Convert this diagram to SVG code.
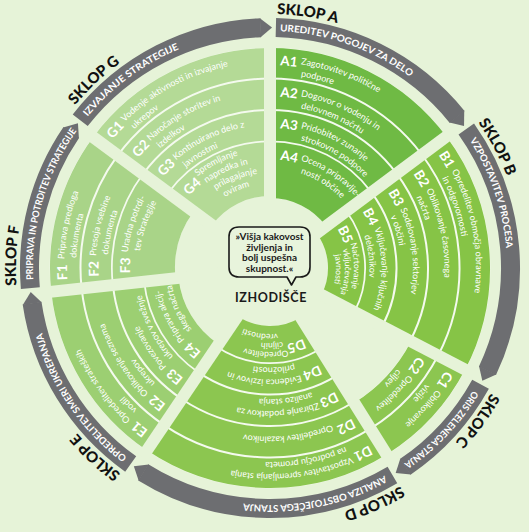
<svg xmlns="http://www.w3.org/2000/svg" xmlns:xlink="http://www.w3.org/1999/xlink" width="529" height="532" viewBox="0 0 529 532">
<style>
.t{font-family:Lato,"Open Sans",sans-serif;font-size:9px;fill:#fff}
.t5{font-size:8.5px}
.lb{font-family:Lato,"Open Sans",sans-serif;font-size:13.5px;font-weight:700;fill:#fff}
.bt{font-family:Lato,"Open Sans",sans-serif;font-size:9.5px;font-weight:700;fill:#fff}
.sk{font-family:Lato,"Open Sans",sans-serif;font-size:15px;font-weight:900;fill:#111}
.ct{font-family:Lato,"Open Sans",sans-serif;font-size:10px;font-weight:700;fill:#1a1a1a}
.seg{fill:none}
.und{fill:none;stroke:#f4faee}
.band{fill:none;stroke:#6d6e71;stroke-width:19}
.tip{fill:#6d6e71}
.spk line{stroke:#e6f3d8;stroke-width:12}
.A{stroke:#6fba44}.B{stroke:#86c446}.C{stroke:#8cc650}.D{stroke:#8cc650}.E{stroke:#9ccf72}.F{stroke:#a9d488}.G{stroke:#b4da96}
</style>
<defs>
<path id="p206" d="M270,62 A206,206 0 1 1 270,474 A206,206 0 1 1 270,62"/>
<path id="p194" d="M270,74 A194,194 0 1 1 270,462 A194,194 0 1 1 270,74"/>
<path id="p203" d="M270,65 A203,203 0 1 1 270,471 A203,203 0 1 1 270,65"/>
<path id="p174" d="M270,93.5 A174.5,174.5 0 1 1 270,442.5 A174.5,174.5 0 1 1 270,93.5"/>
<path id="p162" d="M270,105.5 A162.5,162.5 0 1 1 270,430.5 A162.5,162.5 0 1 1 270,105.5"/>
<path id="p171" d="M270,96.5 A171.5,171.5 0 1 1 270,439.5 A171.5,171.5 0 1 1 270,96.5"/>
<path id="p168" d="M270,99.5 A168.5,168.5 0 1 1 270,436.5 A168.5,168.5 0 1 1 270,99.5"/>
<path id="p143" d="M270,125 A143,143 0 1 1 270,411 A143,143 0 1 1 270,125"/>
<path id="p131" d="M270,137 A131,131 0 1 1 270,399 A131,131 0 1 1 270,137"/>
<path id="p140" d="M270,128 A140,140 0 1 1 270,408 A140,140 0 1 1 270,128"/>
<path id="p111" d="M270,156.5 A111.5,111.5 0 1 1 270,379.5 A111.5,111.5 0 1 1 270,156.5"/>
<path id="p99" d="M270,168.5 A99.5,99.5 0 1 1 270,367.5 A99.5,99.5 0 1 1 270,168.5"/>
<path id="p108" d="M270,159.5 A108.5,108.5 0 1 1 270,376.5 A108.5,108.5 0 1 1 270,159.5"/>
<path id="p84" d="M270,184 A84,84 0 1 1 270,352 A84,84 0 1 1 270,184"/>
<path id="p75" d="M270,193 A75,75 0 1 1 270,343 A75,75 0 1 1 270,193"/>
<path id="p66" d="M270,202 A66,66 0 1 1 270,334 A66,66 0 1 1 270,202"/>
<path id="p78" d="M270,190 A78,78 0 1 1 270,346 A78,78 0 1 1 270,190"/>
<path id="p117" d="M270,151 A117,117 0 1 1 270,385 A117,117 0 1 1 270,151"/>
<path id="p106" d="M270,162 A106,106 0 1 1 270,374 A106,106 0 1 1 270,162"/>
<path id="p95" d="M270,173 A95,95 0 1 1 270,363 A95,95 0 1 1 270,173"/>
<path id="p254" d="M270,14 A254,254 0 1 1 270,522 A254,254 0 1 1 270,14"/>
<path id="p237" d="M270,31 A237,237 0 1 1 270,505 A237,237 0 1 1 270,31"/>
<polygon id="tip" points="269.5,18 281.3,27.8 269.5,37"/>
</defs>
<rect width="529" height="532" fill="#e6f3d8"/>

<g id="dividers">
<circle class="und" cx="270" cy="268" r="145.125" stroke-width="150.25" pathLength="360" stroke-dasharray="53.3 360" transform="rotate(-90 270 268)"/>
<circle class="und" cx="270" cy="268" r="139.125" stroke-width="162.25" pathLength="360" stroke-dasharray="64.2 360" transform="rotate(-36.7 270 268)"/>
<circle class="und" cx="270" cy="268" r="189.5" stroke-width="61.5" pathLength="360" stroke-dasharray="30.5 360" transform="rotate(27.5 270 268)"/>
<circle class="und" cx="270" cy="268" r="139.125" stroke-width="162.25" pathLength="360" stroke-dasharray="66 360" transform="rotate(58 270 268)"/>
<circle class="und" cx="270" cy="268" r="156.125" stroke-width="128.25" pathLength="360" stroke-dasharray="49.8 360" transform="rotate(124 270 268)"/>
<circle class="und" cx="270" cy="268" r="157.625" stroke-width="125.25" pathLength="360" stroke-dasharray="42.7 360" transform="rotate(173.8 270 268)"/>
<circle class="und" cx="270" cy="268" r="146.125" stroke-width="148.25" pathLength="360" stroke-dasharray="53.5 360" transform="rotate(216.5 270 268)"/>
</g>

<!-- A -->
<g id="a1"><circle class="seg A" cx="270" cy="268" r="205.25" stroke-width="29.5" pathLength="360" stroke-dasharray="53.3 360" transform="rotate(-90 270 268)"/>
<text class="lb"><textPath href="#p203" startOffset="10">A1</textPath></text>
<text class="t"><textPath href="#p206" startOffset="31">Zagotovitev politične</textPath></text>
<text class="t"><textPath href="#p194" startOffset="31">podpore</textPath></text></g>
<g id="a2"><circle class="seg A" cx="270" cy="268" r="173.75" stroke-width="29.5" pathLength="360" stroke-dasharray="53.3 360" transform="rotate(-90 270 268)"/>
<text class="lb"><textPath href="#p171" startOffset="10">A2</textPath></text>
<text class="t"><textPath href="#p174" startOffset="31">Dogovor o vodenju in</textPath></text>
<text class="t"><textPath href="#p162" startOffset="31">delovnem načrtu</textPath></text></g>
<g id="a3"><circle class="seg A" cx="270" cy="268" r="142.25" stroke-width="29.5" pathLength="360" stroke-dasharray="53.3 360" transform="rotate(-90 270 268)"/>
<text class="lb"><textPath href="#p140" startOffset="10">A3</textPath></text>
<text class="t"><textPath href="#p143" startOffset="31">Pridobitev zunanje</textPath></text>
<text class="t"><textPath href="#p131" startOffset="31">strokovne podpore</textPath></text></g>
<g id="a4"><circle class="seg A" cx="270" cy="268" r="97.875" stroke-width="55.75" pathLength="360" stroke-dasharray="53.3 360" transform="rotate(-90 270 268)"/>
<text class="lb"><textPath href="#p108" startOffset="10">A4</textPath></text>
<text class="t"><textPath href="#p111" startOffset="31">Ocena pripravlje-</textPath></text>
<text class="t"><textPath href="#p99" startOffset="31">nosti občine</textPath></text></g>

<!-- B -->
<g id="b1" transform="rotate(53.3 270 268)"><circle class="seg B" cx="270" cy="268" r="205.25" stroke-width="29.5" pathLength="360" stroke-dasharray="64.2 360" transform="rotate(-90 270 268)"/>
<text class="lb"><textPath href="#p203" startOffset="10">B1</textPath></text>
<text class="t"><textPath href="#p206" startOffset="31">Opredelitev območja obravnave</textPath></text>
<text class="t"><textPath href="#p194" startOffset="31">in odgovornosti</textPath></text></g>
<g id="b2" transform="rotate(53.3 270 268)"><circle class="seg B" cx="270" cy="268" r="173.75" stroke-width="29.5" pathLength="360" stroke-dasharray="64.2 360" transform="rotate(-90 270 268)"/>
<text class="lb"><textPath href="#p171" startOffset="10">B2</textPath></text>
<text class="t"><textPath href="#p174" startOffset="31">Oblikovanje časovnega</textPath></text>
<text class="t"><textPath href="#p162" startOffset="31">načrta</textPath></text></g>
<g id="b3" transform="rotate(53.3 270 268)"><circle class="seg B" cx="270" cy="268" r="142.25" stroke-width="29.5" pathLength="360" stroke-dasharray="64.2 360" transform="rotate(-90 270 268)"/>
<text class="lb"><textPath href="#p140" startOffset="10">B3</textPath></text>
<text class="t"><textPath href="#p143" startOffset="31">Sodelovanje sektorjev</textPath></text>
<text class="t"><textPath href="#p131" startOffset="31">v občini</textPath></text></g>
<g id="b4" transform="rotate(53.3 270 268)"><circle class="seg B" cx="270" cy="268" r="110.75" stroke-width="29.5" pathLength="360" stroke-dasharray="64.2 360" transform="rotate(-90 270 268)"/>
<text class="lb"><textPath href="#p108" startOffset="10">B4</textPath></text>
<text class="t"><textPath href="#p111" startOffset="31">Vključevanje ključnih</textPath></text>
<text class="t"><textPath href="#p99" startOffset="31">deležnikov</textPath></text></g>
<g id="b5" transform="rotate(53.3 270 268)"><circle class="seg B" cx="270" cy="268" r="76.125" stroke-width="36.25" pathLength="360" stroke-dasharray="64.2 360" transform="rotate(-90 270 268)"/>
<text class="lb"><textPath href="#p78" startOffset="9">B5</textPath></text>
<text class="t t5"><textPath href="#p84" startOffset="29">Načrtovanje</textPath></text>
<text class="t t5"><textPath href="#p75" startOffset="29">vključevanja</textPath></text>
<text class="t t5"><textPath href="#p66" startOffset="29">javnosti</textPath></text></g>

<!-- C -->
<g id="c1" transform="rotate(117.5 270 268)"><circle class="seg C" cx="270" cy="268" r="205.25" stroke-width="29.5" pathLength="360" stroke-dasharray="30.5 360" transform="rotate(-90 270 268)"/>
<text class="lb"><textPath href="#p203" startOffset="10">C1</textPath></text>
<text class="t"><textPath href="#p206" startOffset="31">Oblikovanje</textPath></text>
<text class="t"><textPath href="#p194" startOffset="31">vizije</textPath></text></g>
<g id="c2" transform="rotate(117.5 270 268)"><circle class="seg C" cx="270" cy="268" r="173.75" stroke-width="29.5" pathLength="360" stroke-dasharray="30.5 360" transform="rotate(-90 270 268)"/>
<text class="lb"><textPath href="#p171" startOffset="10">C2</textPath></text>
<text class="t"><textPath href="#p174" startOffset="31">Opredelitev</textPath></text>
<text class="t"><textPath href="#p162" startOffset="31">ciljev</textPath></text></g>

<!-- D -->
<g id="d1" transform="rotate(148 270 268)"><circle class="seg D" cx="270" cy="268" r="205.25" stroke-width="29.5" pathLength="360" stroke-dasharray="66 360" transform="rotate(-90 270 268)"/>
<text class="lb"><textPath href="#p203" startOffset="10">D1</textPath></text>
<text class="t"><textPath href="#p206" startOffset="31">Vzpostavitev spremljanja stanja</textPath></text>
<text class="t"><textPath href="#p194" startOffset="31">na področju prometa</textPath></text></g>
<g id="d2" transform="rotate(148 270 268)"><circle class="seg D" cx="270" cy="268" r="173.75" stroke-width="29.5" pathLength="360" stroke-dasharray="66 360" transform="rotate(-90 270 268)"/>
<text class="lb"><textPath href="#p171" startOffset="10">D2</textPath></text>
<text class="t"><textPath href="#p168" startOffset="31">Opredelitev kazalnikov</textPath></text></g>
<g id="d3" transform="rotate(148 270 268)"><circle class="seg D" cx="270" cy="268" r="142.25" stroke-width="29.5" pathLength="360" stroke-dasharray="66 360" transform="rotate(-90 270 268)"/>
<text class="lb"><textPath href="#p140" startOffset="10">D3</textPath></text>
<text class="t"><textPath href="#p143" startOffset="31">Zbiranje podatkov za</textPath></text>
<text class="t"><textPath href="#p131" startOffset="31">analizo stanja</textPath></text></g>
<g id="d4" transform="rotate(148 270 268)"><circle class="seg D" cx="270" cy="268" r="110.75" stroke-width="29.5" pathLength="360" stroke-dasharray="66 360" transform="rotate(-90 270 268)"/>
<text class="lb"><textPath href="#p108" startOffset="10">D4</textPath></text>
<text class="t"><textPath href="#p111" startOffset="31">Evidenca izzivov in</textPath></text>
<text class="t"><textPath href="#p99" startOffset="31">priložnosti</textPath></text></g>
<g id="d5" transform="rotate(148 270 268)"><circle class="seg D" cx="270" cy="268" r="76.125" stroke-width="36.25" pathLength="360" stroke-dasharray="66 360" transform="rotate(-90 270 268)"/>
<text class="lb"><textPath href="#p78" startOffset="9">D5</textPath></text>
<text class="t t5"><textPath href="#p84" startOffset="29">Opredelitev</textPath></text>
<text class="t t5"><textPath href="#p75" startOffset="29">ciljnih</textPath></text>
<text class="t t5"><textPath href="#p66" startOffset="29">vrednosti</textPath></text></g>

<!-- E -->
<g id="e1" transform="rotate(214 270 268)"><circle class="seg E" cx="270" cy="268" r="205.25" stroke-width="29.5" pathLength="360" stroke-dasharray="49.8 360" transform="rotate(-90 270 268)"/>
<text class="lb"><textPath href="#p203" startOffset="10">E1</textPath></text>
<text class="t"><textPath href="#p206" startOffset="31">Opredelitev strateških</textPath></text>
<text class="t"><textPath href="#p194" startOffset="31">vodil</textPath></text></g>
<g id="e2" transform="rotate(214 270 268)"><circle class="seg E" cx="270" cy="268" r="173.75" stroke-width="29.5" pathLength="360" stroke-dasharray="49.8 360" transform="rotate(-90 270 268)"/>
<text class="lb"><textPath href="#p171" startOffset="10">E2</textPath></text>
<text class="t"><textPath href="#p174" startOffset="31">Oblikovanje seznama</textPath></text>
<text class="t"><textPath href="#p162" startOffset="31">ukrepov</textPath></text></g>
<g id="e3" transform="rotate(214 270 268)"><circle class="seg E" cx="270" cy="268" r="142.25" stroke-width="29.5" pathLength="360" stroke-dasharray="49.8 360" transform="rotate(-90 270 268)"/>
<text class="lb"><textPath href="#p140" startOffset="10">E3</textPath></text>
<text class="t"><textPath href="#p143" startOffset="31">Povezovanje</textPath></text>
<text class="t"><textPath href="#p131" startOffset="31">ukrepov v svežnje</textPath></text></g>
<g id="e4" transform="rotate(214 270 268)"><circle class="seg E" cx="270" cy="268" r="108.875" stroke-width="33.75" pathLength="360" stroke-dasharray="49.8 360" transform="rotate(-90 270 268)"/>
<text class="lb"><textPath href="#p108" startOffset="10">E4</textPath></text>
<text class="t"><textPath href="#p111" startOffset="31">Priprava akcij-</textPath></text>
<text class="t"><textPath href="#p99" startOffset="31">skega načrta</textPath></text></g>

<!-- F -->
<g id="f1" transform="rotate(263.8 270 268)"><circle class="seg F" cx="270" cy="268" r="205.25" stroke-width="29.5" pathLength="360" stroke-dasharray="42.7 360" transform="rotate(-90 270 268)"/>
<text class="lb"><textPath href="#p203" startOffset="10">F1</textPath></text>
<text class="t"><textPath href="#p206" startOffset="31">Priprava predloga</textPath></text>
<text class="t"><textPath href="#p194" startOffset="31">dokumenta</textPath></text></g>
<g id="f2" transform="rotate(263.8 270 268)"><circle class="seg F" cx="270" cy="268" r="173.75" stroke-width="29.5" pathLength="360" stroke-dasharray="42.7 360" transform="rotate(-90 270 268)"/>
<text class="lb"><textPath href="#p171" startOffset="10">F2</textPath></text>
<text class="t"><textPath href="#p174" startOffset="31">Presoja vsebine</textPath></text>
<text class="t"><textPath href="#p162" startOffset="31">dokumenta</textPath></text></g>
<g id="f3" transform="rotate(263.8 270 268)"><circle class="seg F" cx="270" cy="268" r="126.125" stroke-width="62.25" pathLength="360" stroke-dasharray="42.7 360" transform="rotate(-90 270 268)"/>
<text class="lb"><textPath href="#p140" startOffset="10">F3</textPath></text>
<text class="t"><textPath href="#p143" startOffset="31">Uradna potrdi-</textPath></text>
<text class="t"><textPath href="#p131" startOffset="31">tev Strategije</textPath></text></g>

<!-- G -->
<g id="g1" transform="rotate(306.5 270 268)"><circle class="seg G" cx="270" cy="268" r="205.25" stroke-width="29.5" pathLength="360" stroke-dasharray="53.5 360" transform="rotate(-90 270 268)"/>
<text class="lb"><textPath href="#p203" startOffset="10">G1</textPath></text>
<text class="t"><textPath href="#p206" startOffset="31">Vodenje aktivnosti in izvajanje</textPath></text>
<text class="t"><textPath href="#p194" startOffset="31">ukrepov</textPath></text></g>
<g id="g2" transform="rotate(306.5 270 268)"><circle class="seg G" cx="270" cy="268" r="173.75" stroke-width="29.5" pathLength="360" stroke-dasharray="53.5 360" transform="rotate(-90 270 268)"/>
<text class="lb"><textPath href="#p171" startOffset="10">G2</textPath></text>
<text class="t"><textPath href="#p174" startOffset="31">Naročanje storitev in</textPath></text>
<text class="t"><textPath href="#p162" startOffset="31">izdelkov</textPath></text></g>
<g id="g3" transform="rotate(306.5 270 268)"><circle class="seg G" cx="270" cy="268" r="142.25" stroke-width="29.5" pathLength="360" stroke-dasharray="53.5 360" transform="rotate(-90 270 268)"/>
<text class="lb"><textPath href="#p140" startOffset="10">G3</textPath></text>
<text class="t"><textPath href="#p143" startOffset="31">Kontinuirano delo z</textPath></text>
<text class="t"><textPath href="#p131" startOffset="31">javnostmi</textPath></text></g>
<g id="g4" transform="rotate(306.5 270 268)"><circle class="seg G" cx="270" cy="268" r="98.875" stroke-width="53.75" pathLength="360" stroke-dasharray="53.5 360" transform="rotate(-90 270 268)"/>
<text class="lb"><textPath href="#p108" startOffset="10">G4</textPath></text>
<text class="t"><textPath href="#p117" startOffset="31">Spremljanje</textPath></text>
<text class="t"><textPath href="#p106" startOffset="31">napredka in</textPath></text>
<text class="t"><textPath href="#p95" startOffset="31">prilagajanje</textPath></text>
<text class="t"><textPath href="#p84" startOffset="31">oviram</textPath></text></g>

<g class="spk" id="gaps">
<line x1="270" y1="268" x2="270" y2="40"/>
<line x1="270" y1="268" x2="452.8" y2="131.7"/>
<line x1="270" y1="268" x2="472.2" y2="373.3"/>
<line x1="270" y1="268" x2="390.8" y2="461.3"/>
<line x1="270" y1="268" x2="142.5" y2="457"/>
<line x1="270" y1="268" x2="43.3" y2="292.6"/>
<line x1="270" y1="268" x2="86.7" y2="132.4"/>
</g>

<g id="connectors">
<g id="band-a"><circle class="band" cx="270" cy="268" r="240.5" pathLength="360" stroke-dasharray="49.7 360" transform="rotate(-88.6 270 268)"/><use href="#tip" class="tip" transform="rotate(51.1 270 268)"/>
<text class="bt"><textPath href="#p237" startOffset="10" textLength="140" lengthAdjust="spacingAndGlyphs">UREDITEV POGOJEV ZA DELO</textPath></text>
<text class="sk"><textPath href="#p254" startOffset="7">SKLOP A</textPath></text></g>
<g id="band-b" transform="rotate(53.3 270 268)"><circle class="band" cx="270" cy="268" r="240.5" pathLength="360" stroke-dasharray="60.6 360" transform="rotate(-88.6 270 268)"/><use href="#tip" class="tip" transform="rotate(62 270 268)"/>
<text class="bt"><textPath href="#p237" startOffset="17" textLength="115" lengthAdjust="spacingAndGlyphs">VZPOSTAVITEV PROCESA</textPath></text>
<text class="sk"><textPath href="#p254" startOffset="8">SKLOP B</textPath></text></g>
<g id="band-c" transform="rotate(117.5 270 268)"><circle class="band" cx="270" cy="268" r="240.5" pathLength="360" stroke-dasharray="26.9 360" transform="rotate(-88.6 270 268)"/><use href="#tip" class="tip" transform="rotate(28.3 270 268)"/>
<text class="bt"><textPath href="#p237" startOffset="15" textLength="101" lengthAdjust="spacingAndGlyphs">ORIS ZELENEGA STANJA</textPath></text>
<text class="sk"><textPath href="#p254" startOffset="9">SKLOP C</textPath></text></g>
<g id="band-d" transform="rotate(148 270 268)"><circle class="band" cx="270" cy="268" r="240.5" pathLength="360" stroke-dasharray="62.4 360" transform="rotate(-88.6 270 268)"/><use href="#tip" class="tip" transform="rotate(63.8 270 268)"/>
<text class="bt"><textPath href="#p237" startOffset="13" textLength="146" lengthAdjust="spacingAndGlyphs">ANALIZA OBSTOJEČEGA STANJA</textPath></text>
<text class="sk"><textPath href="#p254" startOffset="5">SKLOP D</textPath></text></g>
<g id="band-e" transform="rotate(214 270 268)"><circle class="band" cx="270" cy="268" r="240.5" pathLength="360" stroke-dasharray="46.2 360" transform="rotate(-88.6 270 268)"/><use href="#tip" class="tip" transform="rotate(47.6 270 268)"/>
<text class="bt"><textPath href="#p237" startOffset="13" textLength="153" lengthAdjust="spacingAndGlyphs">OPREDELITEV SMERI UKREPANJA</textPath></text>
<text class="sk"><textPath href="#p254" startOffset="9">SKLOP E</textPath></text></g>
<g id="band-f" transform="rotate(263.8 270 268)"><circle class="band" cx="270" cy="268" r="240.5" pathLength="360" stroke-dasharray="39.1 360" transform="rotate(-88.6 270 268)"/><use href="#tip" class="tip" transform="rotate(40.5 270 268)"/>
<text class="bt"><textPath href="#p237" startOffset="14" textLength="158" lengthAdjust="spacingAndGlyphs">PRIPRAVA IN POTRDITEV STRATEGIJE</textPath></text>
<text class="sk"><textPath href="#p254" startOffset="10">SKLOP F</textPath></text></g>
<g id="band-g" transform="rotate(306.5 270 268)"><circle class="band" cx="270" cy="268" r="240.5" pathLength="360" stroke-dasharray="49.9 360" transform="rotate(-88.6 270 268)"/><use href="#tip" class="tip" transform="rotate(51.3 270 268)"/>
<text class="bt"><textPath href="#p237" startOffset="13" textLength="115" lengthAdjust="spacingAndGlyphs">IZVAJANJE STRATEGIJE</textPath></text>
<text class="sk"><textPath href="#p254" startOffset="15">SKLOP G</textPath></text></g>
</g>

<g id="izhodisce">
<path d="M239,227 H300 Q310,227 310,237 V267 Q310,277 300,277 H296 L291.5,285 L287,277 H239 Q229,277 229,267 V237 Q229,227 239,227 Z" fill="#e8f4dc" stroke="#1a1a1a" stroke-width="1.6" stroke-linejoin="round"/>
<text class="ct" x="269.5" y="240" text-anchor="middle">»Višja kakovost</text>
<text class="ct" x="269.5" y="250.5" text-anchor="middle">življenja in</text>
<text class="ct" x="269.5" y="261" text-anchor="middle">bolj uspešna</text>
<text class="ct" x="269.5" y="271.5" text-anchor="middle">skupnost.«</text>
<text x="271" y="302" text-anchor="middle" font-family="Lato, 'Open Sans', sans-serif" font-size="12.5" font-weight="700" letter-spacing="0.6" fill="#1a1a1a">IZHODIŠČE</text>
</g>
</svg>
